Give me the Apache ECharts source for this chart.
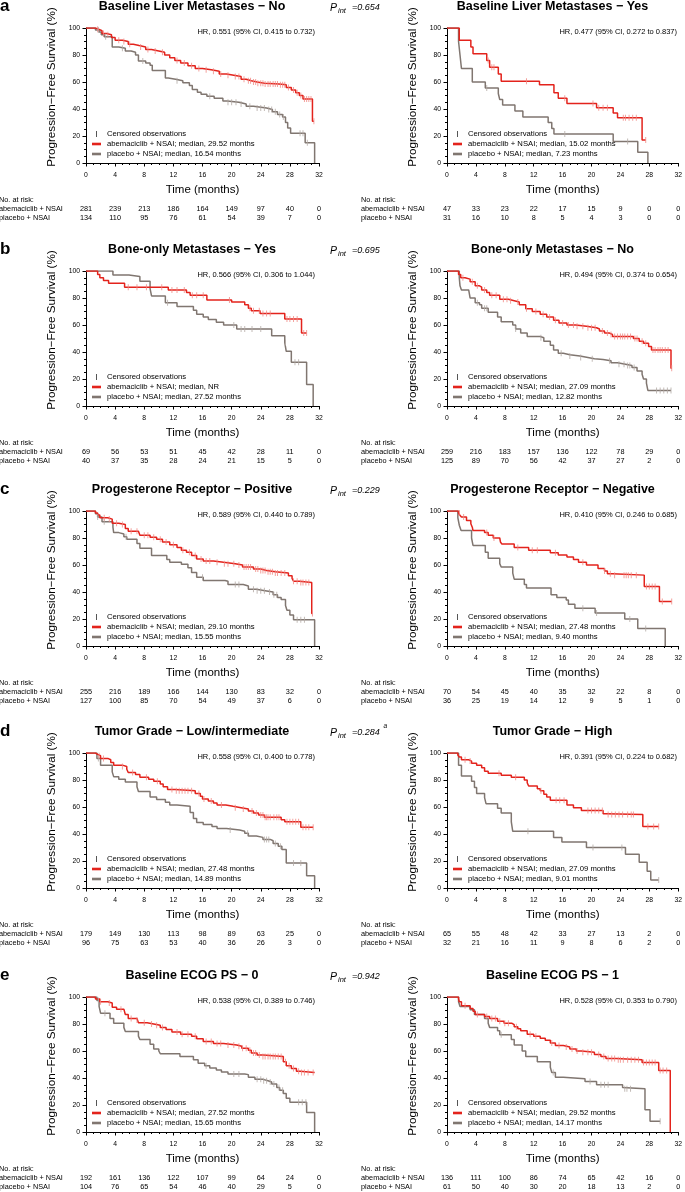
<!DOCTYPE html>
<html><head><meta charset="utf-8">
<script src="https://cdn.jsdelivr.net/npm/echarts@6/dist/echarts.min.js"></script>
<style>html,body{margin:0;padding:0;background:#fff}#c{width:685px;height:1192px}</style>
</head><body><div id="c"></div><script>
// ---------------- DATA ----------------
const timeTicks = [0, 4, 8, 12, 16, 20, 24, 28, 32];

const panelTitles = ['Baseline Liver Metastases \u2212 No', 'Baseline Liver Metastases \u2212 Yes',
  'Bone-only Metastases \u2212 Yes', 'Bone-only Metastases \u2212 No',
  'Progesterone Receptor \u2212 Positive', 'Progesterone Receptor \u2212 Negative',
  'Tumor Grade \u2212 Low/intermediate', 'Tumor Grade \u2212 High',
  'Baseline ECOG PS \u2212 0', 'Baseline ECOG PS \u2212 1'];
const hrTexts = ['HR, 0.551 (95% CI, 0.415 to 0.732)', 'HR, 0.477 (95% CI, 0.272 to 0.837)',
  'HR, 0.566 (95% CI, 0.306 to 1.044)', 'HR, 0.494 (95% CI, 0.374 to 0.654)',
  'HR, 0.589 (95% CI, 0.440 to 0.789)', 'HR, 0.410 (95% CI, 0.246 to 0.685)',
  'HR, 0.558 (95% CI, 0.400 to 0.778)', 'HR, 0.391 (95% CI, 0.224 to 0.682)',
  'HR, 0.538 (95% CI, 0.389 to 0.746)', 'HR, 0.528 (95% CI, 0.353 to 0.790)'];
const medianAbema = ['29.52 months', '15.02 months', 'NR', '27.09 months', '29.10 months',
  '27.48 months', '27.48 months', '27.09 months', '27.52 months', '29.52 months'];
const medianPlacebo = ['16.54 months', '7.23 months', '27.52 months', '12.82 months', '15.55 months',
  '9.40 months', '14.89 months', '9.01 months', '15.65 months', '14.17 months'];
const rowLetters = ['a', 'b', 'c', 'd', 'e'];
const pIntValues = ['=0.654', '=0.695', '=0.229', '=0.284', '=0.942'];
const pIntNotes = ['', '', '', 'a', ''];

// a-left: Baseline liver metastases - No
const liverNoAbema = [[0,100],[1.3,99],[1.8,98],[2.2,96],[2.8,95],[3.5,93],[4,91],[5,90],[5.8,88],[6.5,87],[7.3,86],[8.2,84],[9,83],[10,82],[10.8,80],[11.5,78],[12.2,76],[13,74],[14,72],[15,70],[16,69],[17.2,68],[18.3,66],[19.3,65],[20.3,64],[21.3,62],[22,61],[22.7,60],[23.5,59],[24.5,58.5],[26.5,58],[27.5,56],[28.2,54],[28.8,52],[29.3,50],[29.8,47.5],[31.1,31],[31.3,31]];
const liverNoPlacebo = [[0,100],[1.3,98.5],[1.8,97],[2.1,95],[2.5,93.5],[3.6,86],[4.5,85],[5.4,83],[6.2,82],[6.8,80],[7.2,75.5],[8.2,74],[8.8,72.5],[9.1,68.5],[10.9,63],[11.3,62],[12.3,61],[13.3,59.5],[14.2,57.5],[14.6,54.5],[15.3,52.5],[15.8,51],[16.6,49.5],[17.6,48],[18.8,46],[19.4,45],[21,43.7],[22,42],[23,40.7],[24.8,39.7],[25.6,38],[26.3,36],[27,34],[27.4,30],[27.7,26],[28.1,22],[30.1,15],[31.4,0]];
const liverNoAbemaCens = [1.6,2.4,3,4.5,5.2,6,7.5,8.5,9.5,10.5,12.5,13.5,14.5,15.5,16.5,17.5,18.5,19.5,20.5,21,21.7,22.3,22.6,23,23.3,23.6,24,24.3,24.6,25,25.3,25.7,26,26.3,26.7,27,27.3,27.8,28.5,29,29.5,30,30.3,30.6,30.9,31.3];
const liverNoPlaceboCens = [1.7,2.7,5,7.8,12.5,17,19.5,20,20.6,21.3,22.5,23.5,24,24.5,25.1,25.5,26,26.6,27.1,29.4,29.8,30.4];
const liverNoRiskAbema = [281,239,213,186,164,149,97,40,0];
const liverNoRiskPlacebo = [134,110,95,76,61,54,39,7,0];

// a-right: Baseline liver metastases - Yes
const liverYesAbema = [[0,100],[1.7,91],[3.3,86],[3.6,81],[5.5,76],[5.9,71],[7.1,66],[7.5,60.5],[12.8,58],[14.8,52],[15.4,48],[16.6,44],[20.7,41],[23,37],[23.6,33.5],[27,17],[27.5,17]];
const liverYesPlacebo = [[0,100],[1.6,90],[1.8,80],[2,70],[3.5,60],[5.3,55.5],[7.1,51.5],[7.3,47],[7.7,43],[9.4,38.5],[10.5,34],[14,30],[14.5,25.5],[14.8,21.5],[23,16],[26.4,8],[27.8,0]];
const liverYesAbemaCens = [5.7,6.2,6.5,11,16.3,20.2,21,21.6,22.2,24.4,24.7,25.2,25.7,26.2,27.5];
const liverYesPlaceboCens = [5.5,16.3,25];
const liverYesRiskAbema = [47,33,23,22,17,15,9,0,0];
const liverYesRiskPlacebo = [31,16,10,8,5,4,3,0,0];

// b-left: Bone-only metastases - Yes
const boneYesAbema = [[0,100],[1.6,97.5],[1.9,95],[2.4,93],[3.1,91],[5.3,88],[11.3,86],[13.8,84],[14.3,82],[16.6,78.5],[20,77],[21.8,75],[22.3,72.5],[22.7,70.5],[23.9,68.5],[27.3,64.5],[29.6,54],[30.3,54]];
const boneYesPlacebo = [[0,100],[3.7,97],[5.9,96],[7.4,92.5],[8.8,87],[9,81.5],[10.9,76.5],[12.5,73.7],[14.75,71],[15.2,68],[16.1,66],[16.8,64],[17.9,62],[18.9,60],[20.7,57],[25.5,52],[27.3,47],[27.5,40.5],[28.2,32.5],[30.3,16],[31.2,0]];
const boneYesAbemaCens = [5.8,7,8.3,10.4,11.8,12.5,13.5,14.6,15.2,16.1,19.7,22.5,23,23.8,24.3,24.8,25.3,27.6,28,28.5,29,29.9,30.3];
const boneYesPlaceboCens = [11.2,20.3,21.3,21.8,22.8,24,27.4,28.7,29.2];
const boneYesRiskAbema = [69,56,53,51,45,42,28,11,0];
const boneYesRiskPlacebo = [40,37,35,28,24,21,15,5,0];

// b-right: Bone-only metastases - No
const boneNoAbema = [[0,100],[1.6,97.5],[1.9,95],[2.5,94],[3.2,92],[3.9,89],[4.5,88],[4.8,86],[5.5,84],[5.9,82],[7.3,79],[8.5,78],[9.3,77],[10,75],[10.9,72],[11.8,70],[12.9,68],[13.8,66],[14.75,63.5],[15.5,61.5],[16.6,60],[17.8,59],[19.3,58],[20.7,57],[21.1,55.5],[21.8,54],[22.5,53],[22.9,51.5],[25.8,50],[26.6,48],[27.2,46.5],[27.9,44],[28.3,41.5],[31,28],[31.1,28]];
const boneNoPlacebo = [[0,100],[1.7,95],[1.8,89],[2,86],[3,85],[3.2,80],[3.9,76.5],[4.5,75],[4.8,72.5],[5.7,69.5],[7,66],[7.5,62.5],[9.1,60],[9.5,57],[10.2,54],[11.1,51.5],[12.9,50.5],[13.4,48],[14.3,45],[14.75,41.5],[15.4,39],[16.1,38],[17,37],[18.4,36],[19.5,35],[20.4,34.5],[21.6,33.5],[22.7,32],[23.6,31],[24.7,30],[25.6,28.5],[26.3,26],[27,23.5],[27.2,20],[27.6,17],[27.8,11.5],[31,11.5]];
const boneNoAbemaCens = [2.2,3.5,4.2,5.2,6.2,6.8,7.8,8.3,8.8,9.8,11,12.3,13.3,14.2,15,16,16.8,17.5,18,18.8,19.5,20,20.5,21.5,22.2,22.7,23.2,23.6,24,24.3,24.6,25,25.4,26,26.3,27,27.5,28.5,28.8,29.2,29.5,29.8,30.2,30.6,31.1];
const boneNoPlaceboCens = [4.2,5.2,5.5,9.5,13,15.8,17,18.5,20.1,22.5,23.8,24.5,25,25.3,25.9,29,29.5,30,30.5,31];
const boneNoRiskAbema = [259,216,183,157,136,122,78,29,0];
const boneNoRiskPlacebo = [125,89,70,56,42,37,27,2,0];

// c-left: Progesterone receptor - Positive
const prPosAbema = [[0,100],[1.3,98.5],[1.6,97],[1.9,95],[3,94],[3.6,91],[4.5,90],[5.4,87],[5.8,85],[7.2,84],[7.4,82],[8.8,80.5],[9.7,79],[10.5,77],[11.5,75],[12.5,73],[13.1,71],[13.8,69.5],[14.5,67],[15.2,64.5],[16.1,63],[17.5,62],[18.9,61],[20.5,60],[21.5,58.5],[23,57],[24,56],[24.8,55],[26,54],[27.8,52],[28.3,50],[28.5,48],[29.3,47],[31,24],[31.1,24]];
const prPosPlacebo = [[0,100],[1.3,98],[1.6,95.5],[2.2,92],[3.7,88],[3.8,84],[4.5,83],[5.2,81],[5.6,79],[7,76],[7.4,72.5],[9,67],[11.1,64],[11.5,62],[13.1,60.5],[14,58],[14.5,54.5],[15.2,51],[16.1,48.5],[19.1,48],[19.5,45.5],[21.6,44.5],[22.3,42],[23.4,41],[24.6,40],[25.7,38],[26.3,36],[26.8,34.5],[27.4,30],[27.6,26.5],[28,23],[28.5,19.5],[31.4,0]];
const prPosAbemaCens = [2.5,3.2,4.2,5,6.2,7,8,8.5,9.3,10.2,11,12,13.3,14.2,15,15.8,16.5,17,18,19,19.5,20.3,21,21.7,22,22.3,22.6,23.3,23.6,24,24.3,24.6,25,25.3,25.6,26,26.3,26.8,27.3,28.5,29,29.5,29.8,30.2,30.6,31.1];
const prPosPlaceboCens = [1.6,2.5,5.5,16,20.5,21,23,23.5,24,24.5,25.2,25.8,26.2,29,29.5,30];
const prPosRiskAbema = [255,216,189,166,144,130,83,32,0];
const prPosRiskPlacebo = [127,100,85,70,54,49,37,6,0];

// c-right: Progesterone receptor - Negative
const prNegAbema = [[0,100],[1.6,98.5],[1.75,97],[2,95.5],[2.7,93],[3.3,90.5],[3.5,88],[3.6,85.5],[5.2,84],[5.7,82],[6.4,80],[7.3,79],[7.4,77],[7.6,75.5],[9.3,73],[11.3,71],[14.3,69],[15.4,67.5],[16.6,66],[17.5,64],[18.2,62],[19.3,60],[20.9,57.5],[21.8,55.5],[22.2,53.5],[22.9,52.5],[27.3,44],[29.4,33],[31.1,33]];
const prNegPlacebo = [[0,100],[1.5,95],[1.7,89.5],[1.95,85.5],[3.4,80],[3.6,74.5],[5.3,69.5],[5.7,65],[7.3,61],[7.5,58.5],[9.1,54],[9.3,49.5],[10.7,45.5],[11,43],[14.4,38],[15.2,36],[16.5,34],[16.8,31],[17.7,28],[20.5,24.5],[24.6,20],[26.4,13],[30.2,0]];
const prNegAbemaCens = [1.7,2.3,5.5,6.5,9.8,11.8,12.5,15,18.8,21.8,22.6,23.2,24.5,24.8,25.1,25.5,26.2,27.6,28,28.4,28.8,29.8,31.1];
const prNegPlaceboCens = [18.8,20.7,25.3,27.5];
const prNegRiskAbema = [70,54,45,40,35,32,22,8,0];
const prNegRiskPlacebo = [36,25,19,14,12,9,5,1,0];

// d-left: Tumor grade - Low/intermediate
const gradeLowAbema = [[0,100],[1.3,99],[1.6,98],[2,96],[3,95],[3.4,93],[3.8,91],[5,90],[5.6,88],[5.8,85.5],[6.8,84],[7.4,82],[8.6,80.5],[9.3,79],[10.2,77],[10.6,75],[11.2,73],[12.2,72],[15,70],[15.7,68],[16,66],[16.8,64.5],[17.5,63],[18,61.5],[19.2,60.5],[20.2,59.5],[21.3,58.5],[22.3,57],[23,55.5],[23.7,54],[24.5,52.5],[26.8,50.5],[27.3,49],[29.5,45],[31.2,45]];
const gradeLowPlacebo = [[0,100],[1.5,96],[2,91],[3.6,86],[3.8,82.5],[4.5,80.5],[5.4,78.5],[7,75],[7.2,71.5],[8.8,67.5],[9.7,65.5],[10.9,63.5],[11.5,61.5],[12.5,60.5],[14.3,56],[14.75,51.5],[15.2,48.5],[16.1,47],[17.3,45.5],[18,44],[19.3,43],[21.1,42],[21.8,40.5],[22.3,38.5],[23.4,37.5],[24.3,36],[25.3,35],[25.7,33],[26.4,31],[26.9,28.5],[27.5,18.5],[30.3,9],[31.4,0]];
const gradeLowAbemaCens = [1.8,2.4,5,6.4,8.3,9.8,11.8,12.4,12.8,13.2,13.6,14,14.5,15.5,16.2,17.2,18.6,20.5,21.6,22.8,23.4,24,24.3,24.6,24.8,25,25.3,25.8,26.2,26.5,27.6,28,28.4,28.8,29.2,29.8,30.2,30.6,31.2];
const gradeLowPlaceboCens = [1.7,19.8,22.2,24.5,24.8,25.1,26,26.7,28.5,29.5];
const gradeLowRiskAbema = [179,149,130,113,98,89,63,25,0];
const gradeLowRiskPlacebo = [96,75,63,53,40,36,26,3,0];

// d-right: Tumor grade - High
const gradeHighAbema = [[0,100],[1.5,98.5],[1.7,97],[2,95],[3,94],[3.4,92.5],[4.1,91],[4.8,89],[5.2,86.5],[5.7,85],[7.5,83.5],[8.9,82],[10.7,80],[11.1,78],[11.3,75.5],[12.5,73.5],[12.9,72],[13.4,69.5],[13.8,67.5],[14.3,65],[16.6,61.5],[17.5,59.5],[18.6,57.5],[21.6,55],[22,54.5],[27.1,45.5],[29.3,45.5]];
const gradeHighPlacebo = [[0,100],[1.6,91],[2,83],[3.4,79],[3.8,74.5],[4.1,70],[5.2,67],[5.4,62.5],[7,59],[7.5,55.5],[8.9,49],[9.1,42],[14.75,37.5],[15.9,34],[19.3,30],[24.7,25],[26.6,19],[27.7,12.5],[28.2,6],[29.3,6]];
const gradeHighAbemaCens = [2.5,3.2,7.2,9.5,13,15.1,15.6,16.2,19.5,20,20.5,21,21.5,22.3,22.8,23.3,23.8,24.3,25,25.5,25.8,27.8,28.6,29.3];
const gradeHighPlaceboCens = [11.2,20.2,24.2,29.3];
const gradeHighRiskAbema = [65,55,48,42,33,27,13,2,0];
const gradeHighRiskPlacebo = [32,21,16,11,9,8,6,2,0];

// e-left: Baseline ECOG PS - 0
const ecog0Abema = [[0,100],[1.3,98.5],[1.9,96.5],[3,95.5],[3.6,92.5],[4.2,91],[5.2,90],[5.4,87],[5.8,84],[7,83],[7.2,81],[8.4,80],[9.3,79],[10.2,77.5],[11,76],[11.8,74],[13,72.5],[14.5,71],[15.2,69],[16.1,67],[17.5,65.5],[18.9,64.5],[20.7,63.5],[21.4,62],[22.3,60.5],[22.7,58.5],[23.5,57],[24.3,56],[27.1,52],[27.5,49],[28.2,47],[28.9,45],[29.4,44],[31.4,44]];
const ecog0Placebo = [[0,100],[1.5,97.5],[1.8,93],[2,88],[3.3,84],[3.8,80.5],[5.2,77.5],[5.4,74.5],[7.2,71],[7.4,68.5],[8.8,65],[9.3,61.5],[10,60],[10.2,58],[12.9,56],[14.75,53.5],[15.4,51],[16.3,49],[17,47.5],[17.9,46],[18.6,44.5],[19.5,43],[21.8,42.5],[22.3,40.5],[23.2,39],[24.3,38],[25,37],[25.5,35.5],[26.2,33],[26.6,31],[27.1,28.5],[27.5,25],[28,22],[30.3,14.5],[31.4,0]];
const ecog0AbemaCens = [2,3.2,4.8,6.2,7,8,9,9.7,10.5,12.5,13.2,14,15,16.5,17.2,18,18.5,19.5,20.3,21,21.5,22,22.5,23,23.3,23.8,24.3,24.6,25,25.3,25.7,26,26.4,26.8,27.4,27.9,28.5,29.2,29.6,30,30.5,31.2];
const ecog0PlaceboCens = [1.7,2.6,16.5,20.3,21,23.5,24,24.4,24.8,25.3,25.8,26.5,27,29.2,29.7,30.2];
const ecog0RiskAbema = [192,161,136,122,107,99,64,24,0];
const ecog0RiskPlacebo = [104,76,65,54,46,40,29,5,0];

// e-right: Baseline ECOG PS - 1
const ecog1Abema = [[0,100],[1.6,98.5],[1.7,96.5],[2,93.5],[3.2,91.5],[3.6,89.5],[3.9,87],[5.2,85.5],[5.9,84],[7,82],[7.9,80.5],[9,79.5],[9.3,78],[9.8,76.5],[10.2,75],[11.1,72.5],[12,71],[12.9,69.5],[13.6,68],[14.3,66],[15,64],[16.1,63],[17,61.5],[17.9,60],[18.6,59],[20.4,57.5],[21.3,56],[22,54.5],[23.4,53.5],[27,51.5],[29.3,45.5],[30.9,0]];
const ecog1Placebo = [[0,100],[1.6,96.5],[1.8,93],[3.2,90.5],[3.8,87],[5.2,84],[5.7,80.5],[5.9,77.5],[7,75],[7.3,72],[8.9,68.5],[9.3,64.5],[10.4,60],[10.9,56],[12.5,52],[14.3,48],[14.5,44],[15,40.5],[16.1,39.5],[19.1,37.5],[20.7,35],[24.3,33],[24.5,32],[27.4,16.5],[28.1,8],[29.5,8]];
const ecog1AbemaCens = [2.5,4.2,5.5,6.2,6.7,7.3,8,8.5,9.6,11.5,12.3,14.5,15.5,16.5,17.3,18,18.8,19.5,20,21,21.7,22.3,22.8,23.2,23.7,24,24.4,25,25.5,26,26.5,27.2,27.6,28,28.4,28.8,29.5,29.9,30.4];
const ecog1PlaceboCens = [7.5,14.7,19.8,21.3,21.8,22.3,24.6,24.9,25.4,29.5];
const ecog1RiskAbema = [136,111,100,86,74,65,42,16,0];
const ecog1RiskPlacebo = [61,50,40,30,20,18,13,2,0];

// ---------------- ASSEMBLY ----------------
const panels = [
  [liverNoAbema, liverNoPlacebo, liverNoAbemaCens, liverNoPlaceboCens, liverNoRiskAbema, liverNoRiskPlacebo],
  [liverYesAbema, liverYesPlacebo, liverYesAbemaCens, liverYesPlaceboCens, liverYesRiskAbema, liverYesRiskPlacebo],
  [boneYesAbema, boneYesPlacebo, boneYesAbemaCens, boneYesPlaceboCens, boneYesRiskAbema, boneYesRiskPlacebo],
  [boneNoAbema, boneNoPlacebo, boneNoAbemaCens, boneNoPlaceboCens, boneNoRiskAbema, boneNoRiskPlacebo],
  [prPosAbema, prPosPlacebo, prPosAbemaCens, prPosPlaceboCens, prPosRiskAbema, prPosRiskPlacebo],
  [prNegAbema, prNegPlacebo, prNegAbemaCens, prNegPlaceboCens, prNegRiskAbema, prNegRiskPlacebo],
  [gradeLowAbema, gradeLowPlacebo, gradeLowAbemaCens, gradeLowPlaceboCens, gradeLowRiskAbema, gradeLowRiskPlacebo],
  [gradeHighAbema, gradeHighPlacebo, gradeHighAbemaCens, gradeHighPlaceboCens, gradeHighRiskAbema, gradeHighRiskPlacebo],
  [ecog0Abema, ecog0Placebo, ecog0AbemaCens, ecog0PlaceboCens, ecog0RiskAbema, ecog0RiskPlacebo],
  [ecog1Abema, ecog1Placebo, ecog1AbemaCens, ecog1PlaceboCens, ecog1RiskAbema, ecog1RiskPlacebo]
];

const FONT = '"Liberation Sans", Arial, Helvetica, sans-serif';
const RED = '#e3231c', GRAY = '#807670';
const RED_C = '#f08a84', GRAY_C = '#b3aaa5';
const rowTop = [28, 271, 511, 753, 997];
const PH = 135;
const colLeft = [86, 447];
const colWidth = [233, 234];
const titleX = [192, 552.5];

function survAt(curve, t) {
  let s = curve[0][1];
  for (const p of curve) { if (p[0] <= t) s = p[1]; else break; }
  return s;
}

const grids = [], xAxes = [], yAxes = [], series = [];
panels.forEach((p, i) => {
  const row = Math.floor(i / 2), col = i % 2;
  grids.push({ left: colLeft[col], top: rowTop[row], width: colWidth[col], height: PH, containLabel: false });
  xAxes.push({
    gridIndex: i, type: 'value', min: 0, max: 32, interval: 4,
    axisLine: { show: true, onZero: false, lineStyle: { color: '#000', width: 1 } },
    axisTick: { show: true, length: 3.5, lineStyle: { color: '#000', width: 1 } },
    minorTick: { show: true, splitNumber: 4, length: 2, lineStyle: { color: '#000', width: 1 } },
    splitLine: { show: false }, minorSplitLine: { show: false },
    axisLabel: { fontSize: 6.8, color: '#000', margin: 9, fontFamily: FONT },
    name: 'Time (months)', nameLocation: 'middle', nameGap: 21,
    nameTextStyle: { fontSize: 11.5, color: '#000', fontFamily: FONT }
  });
  yAxes.push({
    gridIndex: i, type: 'value', min: 0, max: 100, interval: 20,
    axisLine: { show: true, onZero: false, lineStyle: { color: '#000', width: 1 } },
    axisTick: { show: true, length: 3.5, lineStyle: { color: '#000', width: 1 } },
    minorTick: { show: true, splitNumber: 4, length: 2, lineStyle: { color: '#000', width: 1 } },
    splitLine: { show: false }, minorSplitLine: { show: false },
    axisLabel: { fontSize: 6.8, color: '#000', margin: 6, fontFamily: FONT }
  });
  const [ab, pl, abC, plC] = p;
  series.push({ type: 'line', xAxisIndex: i, yAxisIndex: i, data: pl, step: 'end', symbol: 'none',
    lineStyle: { color: GRAY, width: 1.5 }, itemStyle: { color: GRAY }, z: 2, silent: true });
  series.push({ type: 'line', xAxisIndex: i, yAxisIndex: i, data: ab, step: 'end', symbol: 'none',
    lineStyle: { color: RED, width: 1.5 }, itemStyle: { color: RED }, z: 3, silent: true });
  series.push({ type: 'scatter', xAxisIndex: i, yAxisIndex: i, data: plC.map(t => [t, survAt(pl, t)]),
    symbol: 'rect', symbolSize: [1, 6], itemStyle: { color: GRAY_C }, z: 4, silent: true });
  series.push({ type: 'scatter', xAxisIndex: i, yAxisIndex: i, data: abC.map(t => [t, survAt(ab, t)]),
    symbol: 'rect', symbolSize: [1, 6], itemStyle: { color: RED_C }, z: 5, silent: true });
});

const chart = echarts.init(document.getElementById('c'), null, { renderer: 'canvas' });
chart.setOption({ animation: false, backgroundColor: '#fff', grid: grids, xAxis: xAxes, yAxis: yAxes, series: series });

function txt(text, x, y, opt) {
  return Object.assign({ type: 'text', silent: true, z: 100,
    style: Object.assign({ text: text, x: x, y: y, fill: '#000', fontFamily: FONT, fontSize: 7.5,
      align: 'left', verticalAlign: 'middle', textAlign: 'left', textVerticalAlign: 'middle' }, opt || {}) });
}
function fixAlign(el) { el.style.textAlign = el.style.align; el.style.textVerticalAlign = el.style.verticalAlign; return el; }

const graphics = [];
// row-level texts
rowLetters.forEach((L, r) => {
  const T = rowTop[r];
  graphics.push(txt(L, 0, T - 22, { fontSize: 17, fontWeight: 'bold' }));
  graphics.push(txt('P', 330, T - 20, { fontSize: 10.5, fontStyle: 'italic' }));
  graphics.push(txt('int', 338, T - 17.5, { fontSize: 7.5, fontStyle: 'italic' }));
  graphics.push(txt(pIntValues[r], 352, T - 20.5, { fontSize: 9, fontStyle: 'italic' }));
  if (pIntNotes[r]) graphics.push(txt(pIntNotes[r], 383.5, T - 27, { fontSize: 6.5, fontStyle: 'italic' }));
});

panels.forEach((p, i) => {
  const row = Math.floor(i / 2), col = i % 2;
  const T = rowTop[row], L = colLeft[col], W = colWidth[col];
  graphics.push(fixAlign(txt(panelTitles[i], titleX[col], T - 21, { fontSize: 12.5, fontWeight: 'bold', align: 'center' })));
  graphics.push(fixAlign(txt(hrTexts[i], L + W - 4, T + 4, { fontSize: 7.5, align: 'right' })));
  // y-axis title
  graphics.push({ type: 'text', silent: true, z: 100, x: L - 34, y: T + 59, rotation: Math.PI / 2,
    style: { text: 'Progression\u2212Free Survival (%)', x: 0, y: 0, fill: '#000', fontFamily: FONT, fontSize: 11.7,
      align: 'center', verticalAlign: 'middle', textAlign: 'center', textVerticalAlign: 'middle' } });
  // legend
  graphics.push({ type: 'line', silent: true, z: 100, shape: { x1: L + 10.5, y1: T + 103, x2: L + 10.5, y2: T + 109 },
    style: { stroke: '#555', lineWidth: 1 } });
  graphics.push(txt('Censored observations', L + 21, T + 106, { fontSize: 7.7 }));
  graphics.push({ type: 'line', silent: true, z: 100, shape: { x1: L + 6, y1: T + 116, x2: L + 15, y2: T + 116 },
    style: { stroke: RED, lineWidth: 2.6 } });
  graphics.push(txt('abemaciclib + NSAI; median, ' + medianAbema[i], L + 21, T + 116, { fontSize: 7.7 }));
  graphics.push({ type: 'line', silent: true, z: 100, shape: { x1: L + 6, y1: T + 126, x2: L + 15, y2: T + 126 },
    style: { stroke: GRAY, lineWidth: 2.6 } });
  graphics.push(txt('placebo + NSAI; median, ' + medianPlacebo[i], L + 21, T + 126, { fontSize: 7.7 }));
  // number at risk table
  const lx = col === 0 ? -1 : 361;
  graphics.push(txt('No. at risk:', lx, T + 172, { fontSize: 7.3 }));
  graphics.push(txt('abemaciclib + NSAI', lx, T + 181, { fontSize: 7.3 }));
  graphics.push(txt('placebo + NSAI', lx, T + 190, { fontSize: 7.3 }));
  const [, , , , rA, rP] = p;
  timeTicks.forEach((t, k) => {
    const px = chart.convertToPixel({ xAxisIndex: i }, t);
    graphics.push(fixAlign(txt(String(rA[k]), px, T + 181, { fontSize: 7.3, align: 'center' })));
    graphics.push(fixAlign(txt(String(rP[k]), px, T + 190, { fontSize: 7.3, align: 'center' })));
  });
});

chart.setOption({ graphic: { elements: graphics } });
</script></body></html>
